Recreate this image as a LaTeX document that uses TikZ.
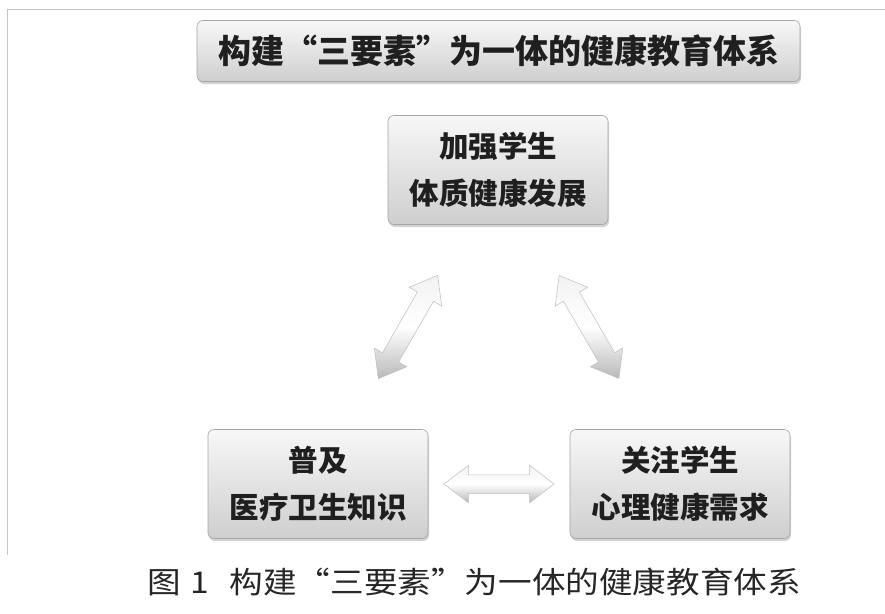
\documentclass[tikz,border=0pt]{standalone}
\usepackage{fontspec}
\newfontfamily\cjk{Noto Sans CJK SC}
\newcommand{\fw}[1]{{\addfontfeature{CharacterWidth=Full}#1}}
\usetikzlibrary{shapes.arrows,shadows,calc}
\begin{document}
\begin{tikzpicture}[x=1pt,y=-1pt,
  box/.style={rounded corners=6pt, draw=gray!70, line width=0.6pt,
    top color=gray!6, bottom color=gray!38,
    drop shadow={shadow xshift=1pt, shadow yshift=-2.5pt, opacity=0.35, fill=gray},
    font=\cjk\bfseries\fontsize{29.5}{47}\selectfont, align=center,
    text=black!88, inner sep=0pt},
  dbl/.style={double arrow, draw=gray!50, line width=0.5pt,
    top color=gray!10, bottom color=gray!55, middle color=white,
    minimum height=#1, inner sep=9pt, double arrow head extend=9.5pt,
    double arrow tip angle=75, sloped}]
\useasboundingbox (0,0) rectangle (885,613);
\fill[white] (0,0) rectangle (885,613);
\draw[gray!45, line width=1pt] (885,9) -- (7,9) -- (7,555);
\node[box, minimum width=603pt, minimum height=61pt,
  font=\cjk\bfseries\fontsize{33}{40}\selectfont] (title) at (498.5,51)
  {构建\fw{“}三要素\fw{”}为一体的健康教育体系};
\node[box, minimum width=220pt, minimum height=109pt] (top) at (498,170)
  {加强学生\\体质健康发展};
\node[box, minimum width=220pt, minimum height=109pt] (left) at (318,484)
  {普及\\医疗卫生知识};
\node[box, minimum width=220pt, minimum height=109pt] (right) at (680,484)
  {关注学生\\心理健康需求};
\path (top) -- (left) node[dbl=119pt, midway] (a1) {};
\path (top) -- (right) node[dbl=119pt, midway] (a2) {};
\path (left) -- (right) node[dbl=110pt, midway] (a3) {};
\node[font=\cjk\fontsize{30}{36}\selectfont, text=black!85] (cap) at (474,582)
  {\scalebox{1.12}[1]{图\hspace{0.3em}1\hspace{0.6em}构建“三要素”为一体的健康教育体系}};
\end{tikzpicture}
\end{document}
